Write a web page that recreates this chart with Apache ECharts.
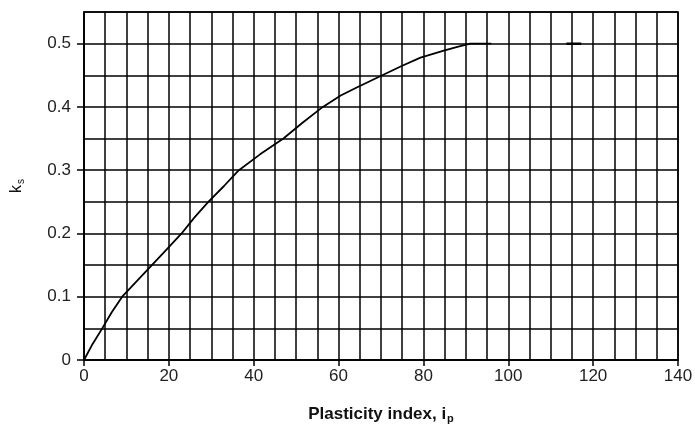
<!DOCTYPE html>
<html>
<head>
<meta charset="utf-8">
<script src="https://cdn.jsdelivr.net/npm/echarts@6/dist/echarts.min.js"></script>
<style>
  html, body { margin: 0; padding: 0; background: #fff; }
  #chart { width: 695px; height: 424px; }
</style>
</head>
<body>
<div id="chart"></div>
<script>
// curve: plasticity index -> k_s
var ipValues = [0, 2, 4.3, 6.5, 9, 12.5, 16, 19.5, 23, 26, 29.3, 33, 36.5, 41.5, 47, 51.5, 56.3, 60.5, 64.4, 70.3, 75, 79.3, 84.8, 88, 91, 96];
var ksValues = [0, 0.025, 0.05, 0.075, 0.1, 0.125, 0.15, 0.175, 0.2, 0.225, 0.25, 0.275, 0.3, 0.325, 0.35, 0.375, 0.4, 0.418, 0.431, 0.45, 0.465, 0.478, 0.489, 0.495, 0.5, 0.5];
// short stray dash at k_s = 0.5
var dashIp = [113.7, 117.2];
var dashKs = [0.5, 0.5];

var xTicks = [0, 20, 40, 60, 80, 100, 120, 140];
var yTicks = [0, 0.1, 0.2, 0.3, 0.4, 0.5];

function pairs(xs, ys) {
  var out = [];
  for (var i = 0; i < xs.length; i++) out.push([xs[i], ys[i]]);
  return out;
}

var myChart = echarts.init(document.getElementById('chart'));

var font = 'Liberation Sans, Arial, sans-serif';
var black = { color: '#000', width: 1.5 };

var option = {
  animation: false,
  grid: {
    left: 84,
    right: 17,
    top: 12,
    bottom: 64,
    containLabel: false,
    outerBoundsMode: 'none',
    show: true,
    borderColor: '#000',
    borderWidth: 1.5
  },
  xAxis: [
    {
      type: 'value',
      min: 0,
      max: 140,
      interval: 20,
      name: 'Plasticity index, i{sub|p}',
      nameLocation: 'middle',
      nameGap: 44,
      nameTextStyle: {
        fontFamily: font,
        fontSize: 17,
        fontWeight: 'bold',
        color: '#111',
        rich: {
          sub: { fontFamily: font, fontSize: 11, fontWeight: 'bold', color: '#111', padding: [9, 0, 0, 1] }
        }
      },
      axisLine: { show: true, lineStyle: black },
      axisTick: { show: true, customValues: xTicks, length: 6, lineStyle: black },
      axisLabel: { customValues: xTicks, margin: 8, fontFamily: font, fontSize: 17, color: '#222' },
      splitLine: { show: false }
    },
    {
      // grid lines every 5
      type: 'value',
      min: 0,
      max: 140,
      interval: 5,
      position: 'bottom',
      axisLine: { show: false },
      axisTick: { show: false },
      axisLabel: { show: false },
      splitLine: { show: true, lineStyle: black }
    }
  ],
  yAxis: [
    {
      type: 'value',
      min: 0,
      max: 0.55,
      interval: 0.05,
      name: 'k{sub|s}',
      nameLocation: 'middle',
      nameGap: 58,
      nameTextStyle: {
        fontFamily: font,
        fontSize: 16,
        color: '#111',
        rich: {
          sub: { fontFamily: font, fontSize: 10, color: '#111', padding: [8, 0, 0, 1] }
        }
      },
      axisLine: { show: true, lineStyle: black },
      axisTick: { show: true, customValues: yTicks, length: 7, lineStyle: black },
      axisLabel: { customValues: yTicks, margin: 13, fontFamily: font, fontSize: 17, color: '#222' },
      splitLine: { show: false }
    },
    {
      // grid lines every 0.05
      type: 'value',
      min: 0,
      max: 0.55,
      interval: 0.05,
      position: 'left',
      axisLine: { show: false },
      axisTick: { show: false },
      axisLabel: { show: false },
      splitLine: { show: true, lineStyle: black }
    }
  ],
  series: [
    {
      type: 'line',
      data: pairs(ipValues, ksValues),
      showSymbol: false,
      lineStyle: { color: '#000', width: 1.8 },
      z: 5
    },
    {
      type: 'line',
      data: pairs(dashIp, dashKs),
      showSymbol: false,
      lineStyle: { color: '#000', width: 2.5 },
      z: 5
    }
  ]
};
myChart.setOption(option);
window.addEventListener('resize', function () {
  myChart.resize();
});
</script>
</body>
</html>
